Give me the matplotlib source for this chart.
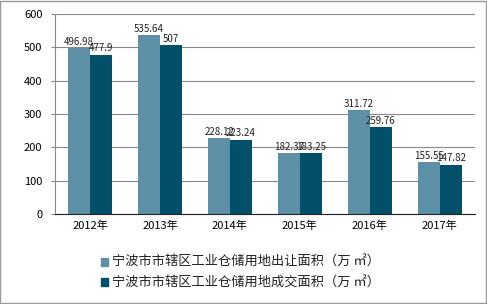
import matplotlib.pyplot as plt
import numpy as np
from matplotlib.patches import Rectangle

plt.rcParams['font.family'] = ['Noto Sans CJK SC', 'DejaVu Sans']

years = ['2012年', '2013年', '2014年', '2015年', '2016年', '2017年']
supply = [496.98, 535.64, 228.12, 182.37, 311.72, 155.55]
deal = [477.9, 507, 223.24, 183.25, 259.76, 147.82]
labels_supply = ['496.98', '535.64', '228.12', '182.37', '311.72', '155.55']
labels_deal = ['477.9', '507', '223.24', '183.25', '259.76', '147.82']
names = ['宁波市市辖区工业仓储用地出让面积（万 ㎡）', '宁波市市辖区工业仓储用地成交面积（万 ㎡）']

c1 = '#5d8fa6'
c2 = '#014f69'

fig = plt.figure(figsize=(4.87, 3.04), dpi=100)
ax = fig.add_axes([0.113, 0.296, 0.862, 0.658])

x = np.arange(len(years))
w = 0.31
b1 = ax.bar(x - w / 2, supply, w, color=c1, zorder=2)
b2 = ax.bar(x + w / 2, deal, w, color=c2, zorder=2)

for rect, t in zip(b1, labels_supply):
    ax.text(rect.get_x() + rect.get_width() / 2, rect.get_height() + 4, t,
            ha='center', va='bottom', fontsize=7, color='#222222', zorder=3)
for rect, t in zip(b2, labels_deal):
    ax.text(rect.get_x() + rect.get_width() / 2, rect.get_height() + 4, t,
            ha='center', va='bottom', fontsize=7, color='#222222', zorder=3)

ax.set_xlim(-0.5, 5.5)
ax.set_ylim(0, 600)
ax.set_yticks(range(0, 601, 100))
ax.set_xticks(x)
ax.set_xticklabels(years)
ax.yaxis.grid(True, color='#888888', linewidth=0.8, zorder=0)
ax.tick_params(axis='y', length=3, color='#888888', labelsize=8, pad=6)
ax.tick_params(axis='x', length=0, labelsize=8, pad=5)
for s in ['top', 'right']:
    ax.spines[s].set_visible(False)
ax.spines['left'].set_color('#888888')
ax.spines['bottom'].set_color('#222222')

# legend drawn by hand to get the vertical stacking
for i, (name, c) in enumerate(zip(names, [c1, c2])):
    yy = 0.138 - i * 0.068
    fig.patches.append(Rectangle((0.208, yy - 0.012), 0.014, 0.026, transform=fig.transFigure,
                                 color=c, figure=fig))
    fig.text(0.229, yy, name, fontsize=9.5, va='center', ha='left', color='#222222')

fig.patches.append(Rectangle((0.001, 0.002), 0.997, 0.995, transform=fig.transFigure,
                             fill=False, edgecolor='#999999', linewidth=1, figure=fig))

fig.savefig('out.png', dpi=100)
